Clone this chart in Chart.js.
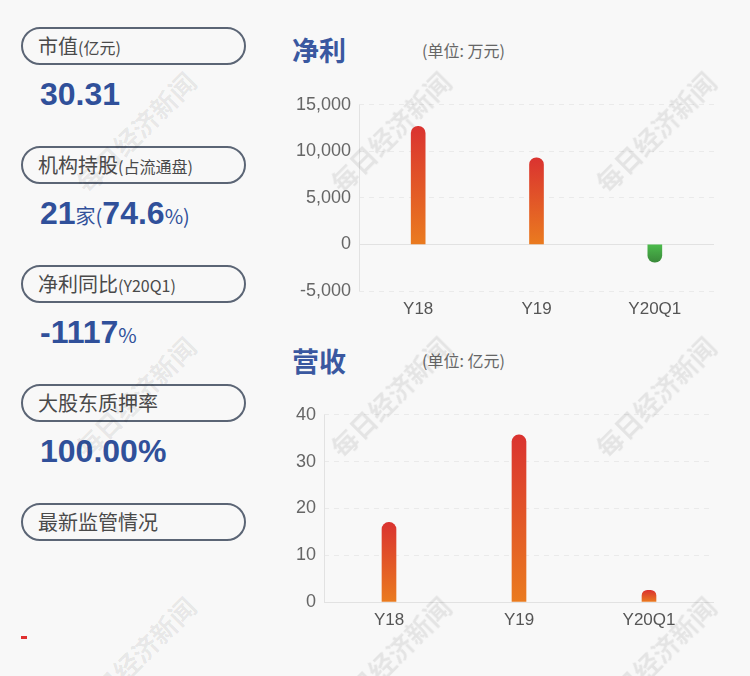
<!DOCTYPE html>
<html>
<head>
<meta charset="utf-8">
<script src="https://cdn.jsdelivr.net/npm/chart.js@4"></script>
<style>
    body { margin: 0; background: #f8f8f8; }
    #page { position: relative; width: 750px; height: 676px; overflow: hidden; background: #f8f8f8;
        font-family: "Liberation Sans", "Noto Sans CJK SC", sans-serif; }
    .pill { position: absolute; left: 21px; width: 206px; height: 34px; border: 2px solid #5b6575; border-radius: 20px;
        font-family: "Noto Sans CJK SC", sans-serif; font-size: 20px; color: #4a4a4a; line-height: 34px; padding-left: 15px; box-sizing: content-box; }
    .pill small { font-size: 16px; }
    .val { position: absolute; left: 40px; color: #30509a; font-weight: bold; font-size: 32px; }
    .val span { font-weight: normal; font-size: 20px; font-family: "Noto Sans CJK SC", sans-serif; }
    .title { position: absolute; left: 292px; font-family: "Noto Sans CJK SC", sans-serif; font-weight: bold; font-size: 27px; color: #3a58a0; }
    .unit { position: absolute; left: 422px; font-family: "Noto Sans CJK SC", sans-serif; font-size: 16px; color: #666; }
    .box { position: absolute; left: 280px; width: 450px; }
    .wm { position: absolute; width: 200px; text-align: center; font-family: "Noto Sans CJK SC", sans-serif; font-weight: bold;
        font-size: 26px; color: rgba(0,0,0,0.08); transform: rotate(-45deg); pointer-events: none; white-space: nowrap; }
</style>
</head>
<body>
<div id="page">
    <div class="pill" style="top:27px">市值<small>(亿元)</small></div>
    <div class="val" style="top:76px">30.31</div>
    <div class="pill" style="top:146px">机构持股<small>(占流通盘)</small></div>
    <div class="val" style="top:195px">21<span>家(</span>74.6<span>%)</span></div>
    <div class="pill" style="top:265px">净利同比<small>(Y20Q1)</small></div>
    <div class="val" style="top:314px">-1117<span>%</span></div>
    <div class="pill" style="top:384px">大股东质押率</div>
    <div class="val" style="top:433px">100.00%</div>
    <div class="pill" style="top:503px">最新监管情况</div>
    <div style="position:absolute;left:21px;top:636px;width:6px;height:3px;background:#e03030"></div>

    <div class="title" style="top:30px">净利</div>
    <div class="unit" style="top:38px">(单位: 万元)</div>
    <div class="box" style="top:86px;height:237px"><canvas id="profit"></canvas></div>

    <div class="title" style="top:341px">营收</div>
    <div class="unit" style="top:348px">(单位: 亿元)</div>
    <div class="box" style="top:396px;height:238px"><canvas id="revenue"></canvas></div>
</div>
<script>
const categories = ['Y18', 'Y19', 'Y20Q1'];
const profitValues = [12700, 9300, -1900];
const revenueValues = [17, 35.7, 2.5];
const profitTicks = [-5000, 0, 5000, 10000, 15000];
const revenueTicks = [0, 10, 20, 30, 40];

// watermarks
const page = document.getElementById('page');
[[135, 130], [390, 130], [655, 130], [135, 395], [390, 395], [655, 395], [135, 655], [390, 655], [655, 655]].forEach(p => {
    const d = document.createElement('div');
    d.className = 'wm';
    d.textContent = '每日经济新闻';
    d.style.left = (p[0] - 100) + 'px';
    d.style.top = (p[1] - 17) + 'px';
    page.appendChild(d);
});

function barColor(ctx) {
    const chart = ctx.chart;
    const y = chart.scales.y;
    if (!chart.chartArea || !y) return '#e05030';
    const v = ctx.raw;
    const top = y.getPixelForValue(v);
    const base = y.getPixelForValue(0);
    const g = chart.ctx.createLinearGradient(0, Math.min(top, base), 0, Math.max(top, base));
    if (v >= 0) {
        g.addColorStop(0, '#da3330');
        g.addColorStop(1, '#ea7b1f');
    } else {
        g.addColorStop(0, '#4cbb4c');
        g.addColorStop(1, '#3a8a3a');
    }
    return g;
}

// solid zero line and left axis over the dashed grid
const axisLines = {
    id: 'axisLines',
    beforeDatasetsDraw: chart => {
        const y = chart.scales.y;
        const a = chart.chartArea;
        const p = Math.round(y.getPixelForValue(0)) + 0.5;
        const c = chart.ctx;
        c.save();
        c.setLineDash([]);
        c.strokeStyle = '#e2e2e2';
        c.lineWidth = 1;
        c.beginPath();
        c.moveTo(a.left, p);
        c.lineTo(a.right, p);
        c.moveTo(Math.round(a.left) + 0.5, a.top);
        c.lineTo(Math.round(a.left) + 0.5, a.bottom);
        c.stroke();
        c.restore();
    }
};

function makeChart(id, values, ticks, yWidth) {
    new Chart(document.getElementById(id), {
        type: 'bar',
        data: {
            labels: categories,
            datasets: [{
                data: values,
                backgroundColor: barColor,
                barThickness: 14,
                borderRadius: 7,
                borderSkipped: 'start'
            }]
        },
        options: {
            responsive: true,
            maintainAspectRatio: false,
            animation: false,
            layout: { padding: { top: 17, right: 16, bottom: 3, left: 0 } },
            plugins: { legend: { display: false }, tooltip: { enabled: false } },
            scales: {
                x: {
                    grid: { display: false },
                    border: { display: false },
                    ticks: { color: '#555', font: { size: 17, family: 'Liberation Sans' }, padding: 0 },
                    afterFit: s => { s.height = 29; }
                },
                y: {
                    min: ticks[0],
                    max: ticks[ticks.length - 1],
                    afterBuildTicks: s => { s.ticks = ticks.map(v => ({ value: v })); },
                    afterFit: s => { s.width = yWidth; },
                    border: { display: false, dash: [5, 5] },
                    grid: { drawTicks: false, color: '#eaeaea', lineWidth: 1 },
                    ticks: {
                        color: '#666',
                        padding: 8,
                        font: { size: 18, family: 'Liberation Sans' },
                        callback: v => v.toLocaleString('en-US')
                    }
                }
            }
        },
        plugins: [axisLines]
    });
}

makeChart('profit', profitValues, profitTicks, 79);
makeChart('revenue', revenueValues, revenueTicks, 44);
</script>
</body>
</html>
